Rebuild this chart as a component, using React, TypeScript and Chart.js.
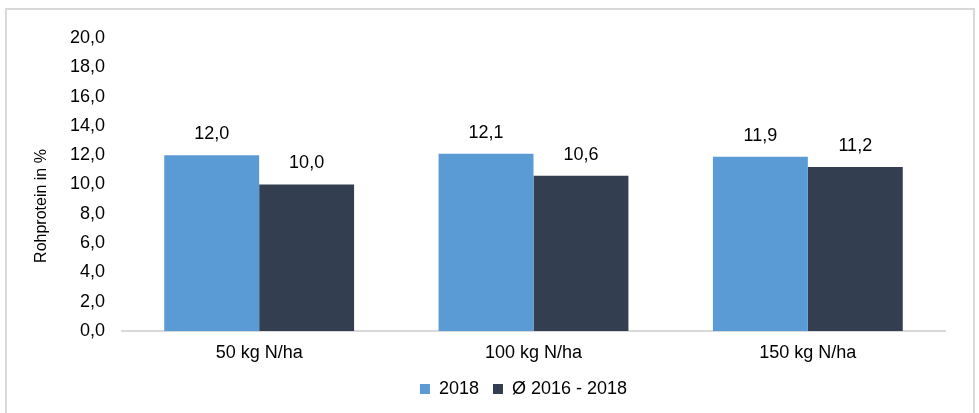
import React, { useEffect, useRef } from "react";
import { Chart, registerables } from "chart.js";

Chart.register(...registerables);

const categories = ["50 kg N/ha", "100 kg N/ha", "150 kg N/ha"];
const series2018 = [12.0, 12.1, 11.9];
const seriesAvg = [10.0, 10.6, 11.2];
const seriesNames = ["2018", "Ø 2016 - 2018"];
const seriesColors = ["#5B9BD5", "#333F50"];
const yAxisTitle = "Rohprotein in %";
const yMin = 0;
const yMax = 20;
const yStep = 2;

const FONT = "'Liberation Sans', Arial, sans-serif";
const fmt = (v: number) => v.toFixed(1).replace(".", ",");

const dataLabelPlugin = {
  id: "dataLabels",
  afterDatasetsDraw(chart: any) {
    const ctx = chart.ctx;
    ctx.save();
    ctx.font = `18px ${FONT}`;
    ctx.fillStyle = "#000000";
    ctx.textAlign = "center";
    ctx.textBaseline = "middle";
    chart.data.datasets.forEach((ds: any, i: number) => {
      const meta = chart.getDatasetMeta(i);
      meta.data.forEach((bar: any, j: number) => {
        ctx.fillText(fmt(ds.data[j]), bar.x, bar.y - 21);
      });
    });
    ctx.restore();
  },
};

const yTitlePlugin = {
  id: "yTitle",
  afterDraw(chart: any) {
    const ctx = chart.ctx;
    ctx.save();
    ctx.font = `16px ${FONT}`;
    ctx.fillStyle = "#000000";
    ctx.textAlign = "center";
    ctx.textBaseline = "middle";
    ctx.translate(42, 206);
    ctx.rotate(-Math.PI / 2);
    ctx.fillText(yAxisTitle, 0, 0);
    ctx.restore();
  },
};

const legendShiftPlugin = {
  id: "legendShift",
  afterLayout(chart: any) {
    const lg = chart.legend;
    if (!lg) return;
    const dx = 51;
    lg.left += dx;
    lg.right += dx;
  },
};

export default function App() {
  const ref = useRef<HTMLCanvasElement | null>(null);

  useEffect(() => {
    if (!ref.current) return;
    const chart = new Chart(ref.current, {
      type: "bar",
      data: {
        labels: categories,
        datasets: [
          {
            label: seriesNames[0],
            data: series2018,
            backgroundColor: seriesColors[0],
            categoryPercentage: 0.692,
            barPercentage: 1,
          },
          {
            label: seriesNames[1],
            data: seriesAvg,
            backgroundColor: seriesColors[1],
            categoryPercentage: 0.692,
            barPercentage: 1,
          },
        ],
      },
      options: {
        responsive: false,
        animation: false,
        devicePixelRatio: 1,
        layout: { padding: { left: 0, right: 34, top: 38, bottom: 5 } },
        scales: {
          x: {
            grid: { display: false, drawTicks: false },
            border: { display: true, color: "#d9d9d9", width: 2 },
            ticks: { color: "#000000", font: { family: FONT, size: 18 }, padding: 11 },
            afterFit(scale: any) {
              scale.height = 35;
            },
          },
          y: {
            min: yMin,
            max: yMax,
            grid: { display: false, drawTicks: false },
            border: { display: false },
            ticks: {
              stepSize: yStep,
              color: "#000000",
              font: { family: FONT, size: 18 },
              padding: 17,
              callback: (v: any) => fmt(Number(v)),
            },
            afterFit(scale: any) {
              scale.width = 122;
            },
          },
        },
        plugins: {
          legend: {
            position: "bottom",
            labels: {
              boxWidth: 10,
              boxHeight: 10,
              padding: 14,
              color: "#000000",
              font: { family: FONT, size: 18 },
            },
          },
          tooltip: { enabled: false },
        },
      },
      plugins: [dataLabelPlugin, yTitlePlugin, legendShiftPlugin],
    } as any);
    return () => chart.destroy();
  }, []);

  return (
    <div style={{ position: "absolute", left: 0, top: 0, width: 979, height: 413, overflow: "hidden", background: "#ffffff" }}>
      <div
        style={{
          position: "absolute",
          left: 5,
          top: 8,
          width: 970,
          height: 420,
          border: "2px solid #d9d9d9",
          boxSizing: "border-box",
        }}
      />
      <canvas ref={ref} width={979} height={413} style={{ position: "absolute", left: 0, top: 0 }} />
    </div>
  );
}
